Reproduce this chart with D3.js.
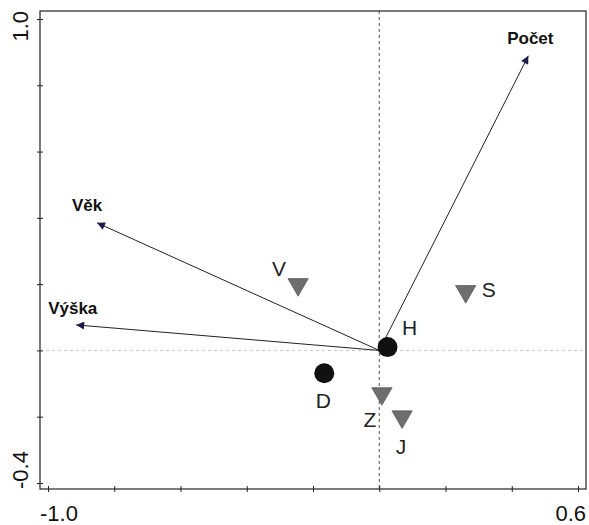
<!DOCTYPE html>
<html><head><meta charset="utf-8">
<script src="https://cdn.jsdelivr.net/npm/d3@7"></script>
<style>body{margin:0;background:#fff}svg{display:block}</style>
</head><body>
<svg id="c" width="589" height="525"></svg>
<script>
// Data
const sampleNames = ["H", "D"];
const sampleX = [0.025, -0.166];
const sampleY = [0.010, -0.069];
const speciesNames = ["V", "S", "Z", "J"];
const speciesX = [-0.245, 0.261, 0.008, 0.069];
const speciesY = [0.199, 0.178, -0.130, -0.200];
const varNames = ["Počet", "Věk", "Výška"];
const varX = [0.450, -0.852, -0.915];
const varY = [0.889, 0.385, 0.077];
const xTicks = [-1.0, -0.8, -0.6, -0.4, -0.2, 0.0, 0.2, 0.4, 0.6];
const yTicks = [-0.4, -0.2, 0.0, 0.2, 0.4, 0.6, 0.8, 1.0];
const xTickLabels = ["-1.0", "0.6"];
const yTickLabels = ["-0.4", "1.0"];

// Layout / style
const frame = {l: 40, r: 586, t: 11, b: 489};
const x = d3.scaleLinear().domain([-1.0, 0.6]).range([48, 578]);
const y = d3.scaleLinear().domain([-0.4, 1.0]).range([483, 19]);
const labelOff = {H: [22, -12], D: [-1, 35], V: [-19, -8], S: [23, 6], Z: [-12, 33], J: [-1, 37]};
const varLabelPos = {"Počet": [2, -12, "middle"], "Věk": [-25, -12, "start"], "Výška": [-28, -11, "start"]};

const svg = d3.select("#c");
const defs = svg.append("defs");
defs.append("marker").attr("id", "ah").attr("viewBox", "0 0 10 10")
  .attr("refX", 10).attr("refY", 5).attr("markerWidth", 11).attr("markerHeight", 8)
  .attr("markerUnits", "userSpaceOnUse").attr("orient", "auto")
  .append("path").attr("d", "M0,0 L10,5 L0,10 Z").attr("fill", "#1c1c50");

// zero lines
svg.append("line").attr("x1", frame.l).attr("x2", frame.r).attr("y1", y(0)).attr("y2", y(0))
  .attr("stroke", "#c8c8c8").attr("stroke-dasharray", "3,3").attr("stroke-width", 1);
svg.append("line").attr("x1", x(0)).attr("x2", x(0)).attr("y1", frame.t).attr("y2", frame.b)
  .attr("stroke", "#555").attr("stroke-dasharray", "3,3").attr("stroke-width", 1);

// frame
svg.append("rect").attr("x", frame.l).attr("y", frame.t)
  .attr("width", frame.r - frame.l).attr("height", frame.b - frame.t)
  .attr("fill", "none").attr("stroke", "#222").attr("stroke-width", 1.2);

// axes ticks
const gx = svg.append("g").attr("transform", `translate(0,${frame.b - 3})`)
  .call(d3.axisBottom(x).tickValues(xTicks).tickSize(6).tickFormat(""));
gx.select(".domain").remove();
gx.selectAll("line").attr("stroke", "#222");
const gy = svg.append("g").attr("transform", `translate(${frame.l + 3},0)`)
  .call(d3.axisLeft(y).tickValues(yTicks).tickSize(6).tickFormat(""));
gy.select(".domain").remove();
gy.selectAll("line").attr("stroke", "#222");

// tick labels
const fam = "Liberation Sans, Arial, sans-serif";
svg.append("text").attr("x", x(-1.0) - 8).attr("y", 521).attr("text-anchor", "start")
  .attr("font-family", fam).attr("font-size", 22).attr("fill", "#111").text(xTickLabels[0]);
svg.append("text").attr("x", x(0.6) + 8).attr("y", 521).attr("text-anchor", "end")
  .attr("font-family", fam).attr("font-size", 22).attr("fill", "#111").text(xTickLabels[1]);
svg.append("text").attr("transform", `translate(28,${y(-0.4) + 6}) rotate(-90)`).attr("text-anchor", "start")
  .attr("font-family", fam).attr("font-size", 22).attr("fill", "#111").text(yTickLabels[0]);
svg.append("text").attr("transform", `translate(28,${y(1.0) - 8}) rotate(-90)`).attr("text-anchor", "end")
  .attr("font-family", fam).attr("font-size", 22).attr("fill", "#111").text(yTickLabels[1]);

// arrows
varNames.forEach((n, i) => {
  svg.append("line").attr("x1", x(0)).attr("y1", y(0)).attr("x2", x(varX[i])).attr("y2", y(varY[i]))
    .attr("stroke", "#222").attr("stroke-width", 1).attr("marker-end", "url(#ah)");
  const p = varLabelPos[n];
  svg.append("text").attr("x", x(varX[i]) + p[0]).attr("y", y(varY[i]) + p[1])
    .attr("text-anchor", p[2]).attr("font-family", fam)
    .attr("font-size", 17).attr("font-weight", "bold").attr("fill", "#111").text(n);
});

// species triangles
const tri = d3.symbol().type(d3.symbolTriangle).size(180);
speciesNames.forEach((n, i) => {
  svg.append("path").attr("d", tri())
    .attr("transform", `translate(${x(speciesX[i])},${y(speciesY[i])}) rotate(180)`)
    .attr("fill", "#6e6e6e").attr("stroke", "#444").attr("stroke-width", 0.6);
});
// samples
sampleNames.forEach((n, i) => {
  svg.append("circle").attr("cx", x(sampleX[i])).attr("cy", y(sampleY[i])).attr("r", 10).attr("fill", "#111");
});
// labels
const allNames = sampleNames.concat(speciesNames);
const allX = sampleX.concat(speciesX), allY = sampleY.concat(speciesY);
allNames.forEach((n, i) => {
  const o = labelOff[n];
  svg.append("text").attr("x", x(allX[i]) + o[0]).attr("y", y(allY[i]) + o[1])
    .attr("text-anchor", "middle").attr("font-family", fam)
    .attr("font-size", 21).attr("fill", "#222").text(n);
});
</script>
</body></html>
